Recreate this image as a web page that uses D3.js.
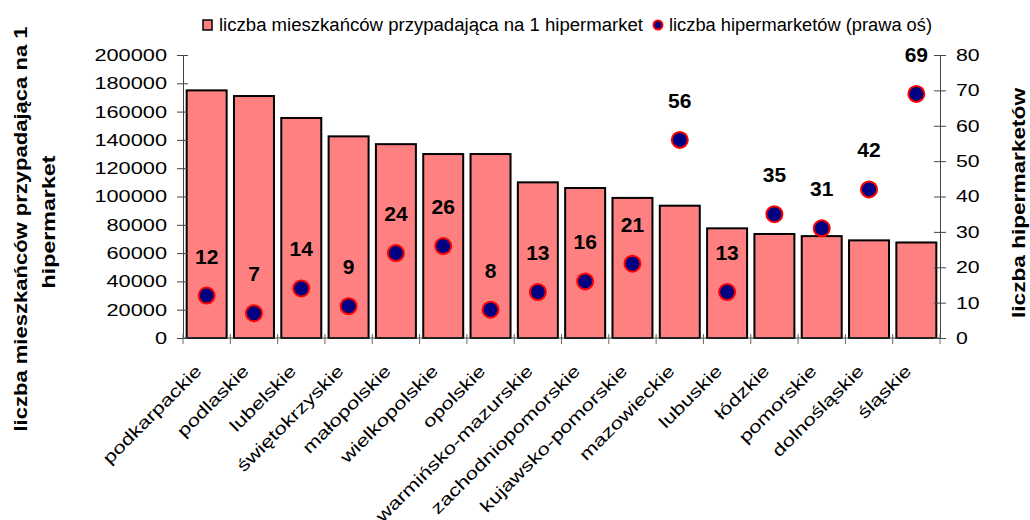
<!DOCTYPE html>
<html>
<head>
<meta charset="utf-8">
<script src="https://cdn.jsdelivr.net/npm/d3@7"></script>
<style>
  body { margin: 0; background: #fff; }
  text { font-family: "Liberation Sans", Arial, sans-serif; fill: #000; }
</style>
</head>
<body>
<div class="canvas"></div>
<script>
const categories = ['podkarpackie', 'podlaskie', 'lubelskie', 'świętokrzyskie', 'małopolskie', 'wielkopolskie',
    'opolskie', 'warmińsko-mazurskie', 'zachodniopomorskie', 'kujawsko-pomorskie', 'mazowieckie',
    'lubuskie', 'łódzkie', 'pomorskie', 'dolnośląskie', 'śląskie']
const residents = [175000, 171000, 155500, 142500, 137000, 130000, 130000, 110000, 106000,
    99000, 93500, 77500, 73500, 72000, 69000, 67500]
const hypermarkets = [12, 7, 14, 9, 24, 26, 8, 13, 16, 21, 56, 13, 35, 31, 42, 69]
const leftTicks = [0, 20000, 40000, 60000, 80000, 100000, 120000, 140000, 160000, 180000, 200000]
const rightTicks = [0, 10, 20, 30, 40, 50, 60, 70, 80]

const svg = d3.select('.canvas').append('svg').attr('width', 1030).attr('height', 520)

const plot = {left: 183, right: 940, top: 55, bottom: 338}

const x = d3.scaleBand().domain(categories).range([plot.left, plot.right]).padding(0)
const yL = d3.scaleLinear().domain([0, 200000]).range([plot.bottom, plot.top])
const yR = d3.scaleLinear().domain([0, 80]).range([plot.bottom, plot.top])

// stretch text horizontally, the original glyphs are wider than Arial
const stretch = (sel, k) => sel.each(function () {
    const w = this.getComputedTextLength()
    d3.select(this).attr('textLength', w * k).attr('lengthAdjust', 'spacingAndGlyphs')
})

// bars
const barW = x.bandwidth() * 0.845
svg.append('g').selectAll('rect')
    .data(residents)
    .enter().append('rect')
        .attr('x', (d, i) => x(categories[i]) + (x.bandwidth() - barW) / 2)
        .attr('y', d => yL(d))
        .attr('width', barW)
        .attr('height', d => plot.bottom - yL(d))
        .attr('fill', '#ff8080')
        .attr('stroke', '#000')
        .attr('stroke-width', 2)

// left axis
const yAxisL = svg.append('g').attr('transform', `translate(${plot.left},0)`)
    .call(d3.axisLeft(yL).tickValues(leftTicks).tickSizeInner(6).tickSizeOuter(0).tickPadding(10).tickFormat(d => d))
yAxisL.selectAll('.tick line').attr('x1', 5)
yAxisL.selectAll('text').style('font-size', '17px').call(stretch, 1.28)

// right axis
const yAxisR = svg.append('g').attr('transform', `translate(${plot.right},0)`)
    .call(d3.axisRight(yR).tickValues(rightTicks).tickSizeInner(6).tickSizeOuter(0).tickPadding(10))
yAxisR.selectAll('.tick line').attr('x1', -6)
yAxisR.selectAll('text').style('font-size', '17px').call(stretch, 1.25)

svg.selectAll('.domain, .tick line').attr('stroke', '#444')
svg.selectAll('.tick text').attr('fill', '#000')

// x axis with ticks on category boundaries
const xAxis = svg.append('g')
xAxis.append('line').attr('x1', plot.left).attr('x2', plot.right)
    .attr('y1', plot.bottom).attr('y2', plot.bottom).attr('stroke', '#444')
xAxis.selectAll('.xt')
    .data(categories.concat(['end']))
    .enter().append('line')
        .attr('x1', (d, i) => i < categories.length ? x(d) : plot.right)
        .attr('x2', (d, i) => i < categories.length ? x(d) : plot.right)
        .attr('y1', plot.bottom - 4).attr('y2', plot.bottom + 6)
        .attr('stroke', '#666')
xAxis.selectAll('text')
    .data(categories)
    .enter().append('text')
        .attr('transform', d => `translate(${x(d) + x.bandwidth() / 2 - 4}, 372) rotate(-45)`)
        .attr('text-anchor', 'end')
        .style('font-size', '17px')
        .text(d => d)
        .call(stretch, 1.3)

// points on right axis
svg.append('g').selectAll('circle')
    .data(hypermarkets)
    .enter().append('circle')
        .attr('cx', (d, i) => x(categories[i]) + x.bandwidth() / 2)
        .attr('cy', d => yR(d))
        .attr('r', 8)
        .attr('fill', '#000080')
        .attr('stroke', '#ff0000')
        .attr('stroke-width', 2)

svg.append('g').selectAll('text')
    .data(hypermarkets)
    .enter().append('text')
        .attr('x', (d, i) => x(categories[i]) + x.bandwidth() / 2)
        .attr('y', d => yR(d) - 32)
        .attr('text-anchor', 'middle')
        .style('font-size', '21px')
        .style('font-weight', 'bold')
        .text(d => d)

// axis titles
svg.append('text')
    .attr('transform', 'translate(27, 229) rotate(-90)')
    .attr('text-anchor', 'middle')
    .style('font-size', '19px').style('font-weight', 'bold')
    .attr('textLength', 405).attr('lengthAdjust', 'spacingAndGlyphs')
    .text('liczba mieszkańców przypadająca na 1')
svg.append('text')
    .attr('transform', 'translate(55, 222) rotate(-90)')
    .attr('text-anchor', 'middle')
    .style('font-size', '19px').style('font-weight', 'bold')
    .attr('textLength', 133).attr('lengthAdjust', 'spacingAndGlyphs')
    .text('hipermarket')
svg.append('text')
    .attr('transform', 'translate(1025, 203) rotate(-90)')
    .attr('text-anchor', 'middle')
    .style('font-size', '19px').style('font-weight', 'bold')
    .attr('textLength', 230).attr('lengthAdjust', 'spacingAndGlyphs')
    .text('liczba hipermarketów')

// legend
const legend = svg.append('g')
legend.append('rect').attr('x', 203).attr('y', 20).attr('width', 9).attr('height', 10)
    .attr('fill', '#ff8080').attr('stroke', '#000').attr('stroke-width', 1.5)
legend.append('text').attr('x', 219).attr('y', 31).style('font-size', '18px')
    .attr('textLength', 424).attr('lengthAdjust', 'spacingAndGlyphs')
    .text('liczba mieszkańców przypadająca na 1 hipermarket')
legend.append('circle').attr('cx', 658).attr('cy', 25).attr('r', 4.5)
    .attr('fill', '#000080').attr('stroke', '#ff0000').attr('stroke-width', 2)
legend.append('text').attr('x', 669).attr('y', 31).style('font-size', '18px')
    .attr('textLength', 263).attr('lengthAdjust', 'spacingAndGlyphs')
    .text('liczba hipermarketów (prawa oś)')
</script>
</body>
</html>
